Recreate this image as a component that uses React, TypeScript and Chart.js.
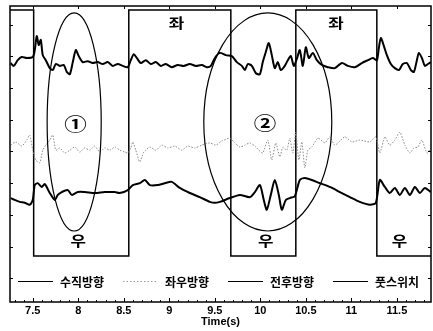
import React, { useEffect, useRef } from "react";
import { Chart, registerables } from "chart.js";

Chart.register(...registerables);

// ---- axis ranges & ticks ----
const timeMin = 7.25;
const timeMax = 11.875;
const valueMin = -0.75;
const valueMax = 8.59;
const xTickValues = [7.5, 8, 8.5, 9, 9.5, 10, 10.5, 11, 11.5];
const xTickLabels = ["7.5", "8", "8.5", "9", "9.5", "10", "10.5", "11", "11.5"];
const yTickValues = [0, 1, 2, 3, 4, 5, 6, 7, 8];

// ---- series labels ----
const seriesLabels = ["수직방향", "좌우방향", "전후방향", "풋스위치"];

// ---- 수직방향 (top trace) ----
const verticalTime = [
  7.258, 7.291, 7.335, 7.379, 7.434, 7.5, 7.522, 7.544, 7.566, 7.588, 7.61, 7.643, 7.687, 7.72, 7.753,
  7.797, 7.841, 7.874, 7.907, 7.94, 7.973, 8.005, 8.049, 8.104, 8.159, 8.214, 8.269, 8.324, 8.379, 8.434,
  8.489, 8.544, 8.577, 8.61, 8.643, 8.687, 8.742, 8.797, 8.852, 8.907, 8.962, 9.027, 9.093, 9.159, 9.225,
  9.291, 9.357, 9.412, 9.456, 9.5, 9.555, 9.621, 9.687, 9.742, 9.797, 9.83, 9.863, 9.907, 9.951, 9.995,
  10.027, 10.06, 10.093, 10.126, 10.159, 10.192, 10.225, 10.269, 10.302, 10.335, 10.368, 10.401, 10.434,
  10.467, 10.5, 10.533, 10.577, 10.621, 10.676, 10.742, 10.819, 10.896, 10.962, 11.038, 11.115, 11.181,
  11.236, 11.28, 11.302, 11.324, 11.357, 11.39, 11.434, 11.478, 11.522, 11.566, 11.61, 11.654, 11.687,
  11.72, 11.742, 11.775, 11.808, 11.841, 11.874,
];
const verticalValue = [
  6.79, 6.7, 6.88, 6.98, 6.95, 6.98, 7.2, 7.64, 7.36, 7.52, 7.04, 6.88, 6.63, 6.57, 6.76,
  6.7, 6.73, 6.51, 6.44, 6.82, 7.2, 7.01, 6.82, 6.85, 6.79, 6.82, 6.76, 6.82, 6.7, 6.76,
  6.7, 6.66, 6.88, 7.07, 6.95, 6.79, 6.88, 6.76, 6.82, 6.7, 6.76, 6.66, 6.73, 6.7, 6.76,
  6.7, 6.73, 6.66, 6.7, 6.95, 7.11, 7.04, 7.01, 6.82, 6.7, 6.57, 6.76, 6.7, 6.47, 6.44,
  6.82, 7.14, 7.42, 7.04, 6.63, 6.82, 6.57, 6.7, 6.88, 7.01, 6.7, 6.92, 7.2,
  6.7, 7.29, 6.95, 7.11, 6.88, 6.73, 6.66, 6.63, 6.79, 6.7, 6.66, 6.79, 6.88,
  6.95, 6.88, 7.26, 7.58, 7.33, 7.04, 6.76, 6.63, 6.57, 6.76, 6.79, 6.57, 6.51,
  6.88, 7.11, 6.95, 6.7, 6.76, 6.82,
];

// ---- 좌우방향 (middle trace) ----
const lateralTime = [
  7.258, 7.313, 7.379, 7.434, 7.467, 7.5, 7.533, 7.577, 7.61, 7.643, 7.687, 7.72, 7.753, 7.797, 7.852,
  7.907, 7.962, 8.016, 8.071, 8.126, 8.181, 8.236, 8.291, 8.346, 8.401, 8.456, 8.511, 8.544, 8.577, 8.599,
  8.632, 8.676, 8.72, 8.786, 8.852, 8.918, 8.984, 9.06, 9.137, 9.203, 9.28, 9.357, 9.445, 9.511, 9.577,
  9.665, 9.72, 9.775, 9.83, 9.885, 9.94, 9.984, 10.027, 10.082, 10.126, 10.17, 10.214, 10.247, 10.291,
  10.324, 10.357, 10.39, 10.423, 10.456, 10.489, 10.522, 10.566, 10.632, 10.709, 10.764, 10.819, 10.929,
  11.005, 11.093, 11.203, 11.269, 11.313, 11.368, 11.423, 11.478, 11.533, 11.588, 11.643, 11.687, 11.731,
  11.775, 11.83, 11.874,
];
const lateralValue = [
  4.2, 4.3, 4.17, 4.36, 4.52, 4.04, 3.73, 3.64, 4.04, 4.2, 4.36, 4.52, 4.04, 4.11, 3.95,
  4.04, 4.14, 3.98, 4.11, 4.04, 4.17, 3.98, 4.11, 4.04, 4.14, 4.04, 3.98, 3.95, 4.11, 4.3,
  4.04, 3.67, 3.98, 4.14, 4.04, 4.2, 4.11, 4.17, 4.04, 4.17, 4.11, 4.2, 4.27, 4.2, 4.33,
  4.42, 4.27, 4.14, 4.2, 4.27, 4.17, 4.04, 3.95, 4.36, 3.73, 4.27, 3.83, 4.14, 4.04,
  4.42, 3.95, 4.61, 3.73, 4.3, 3.48, 4.04, 4.14, 4.42, 4.27, 4.46, 4.2, 4.46,
  4.3, 4.36, 4.3, 4.46, 3.95, 4.46, 4.2, 4.36, 4.61, 4.2, 3.95, 4.11, 4.14,
  4.36, 3.95, 4.11,
];

// ---- 전후방향 (bottom trace) ----
const forwardTime = [
  7.258, 7.302, 7.357, 7.412, 7.467, 7.5, 7.522, 7.555, 7.599, 7.632, 7.687, 7.742, 7.775, 7.819, 7.885,
  7.929, 7.995, 8.071, 8.181, 8.291, 8.401, 8.456, 8.544, 8.599, 8.676, 8.731, 8.786, 8.874, 8.951, 9.027,
  9.115, 9.225, 9.335, 9.445, 9.5, 9.555, 9.665, 9.775, 9.885, 9.94, 9.995, 10.038, 10.071, 10.115, 10.159,
  10.203, 10.236, 10.28, 10.324, 10.379, 10.434, 10.489, 10.566, 10.654, 10.764, 10.874, 10.984, 11.093,
  11.203, 11.269, 11.313, 11.368, 11.423, 11.478, 11.533, 11.588, 11.643, 11.698, 11.753, 11.808, 11.874,
];
const forwardValue = [
  2.53, 2.47, 2.41, 2.38, 2.32, 2.47, 2.94, 3.0, 2.88, 2.97, 2.69, 2.47, 2.63, 2.72, 2.78,
  2.63, 2.72, 2.72, 2.69, 2.72, 2.72, 2.69, 2.78, 2.94, 3.0, 3.1, 2.94, 2.94, 3.0, 3.04,
  2.85, 2.69, 2.56, 2.41, 2.38, 2.41, 2.53, 2.63, 2.56, 2.72, 2.94, 2.47, 2.16, 2.63, 3.1,
  2.63, 2.16, 2.47, 2.53, 2.59, 3.1, 3.16, 3.1, 3.0, 2.88, 2.72, 2.56, 2.41,
  2.32, 2.38, 3.1, 2.88, 2.69, 2.85, 2.63, 2.85, 2.63, 2.88, 2.69, 2.85, 2.72,
];

// ---- 풋스위치 (foot switch, step) ----
const switchTime = [7.25, 7.51, 8.555, 9.676, 10.39, 11.28, 11.875];
const switchValue = [8.46, 0.7, 8.46, 0.7, 8.46, 0.7, 0.7];

// ---- annotations (data coordinates) ----
const ellipseTime = [7.955, 10.082];
const ellipseValue = [4.93, 4.93];
const ellipseHalfTime = [0.297, 0.703];
const ellipseHalfValue = [3.44, 3.44];
const markerTime = [7.97, 10.05];
const markerValue = [4.9, 4.93];
const markerText = ["①", "②"];
const sideText = ["좌", "좌", "우", "우", "우"];
const sideTime = [9.08, 10.83, 8.0, 10.06, 11.53];
const sideValue = [8.05, 8.05, 1.17, 1.17, 1.17];

const pts = (ts: number[], vs: number[]) => ts.map((t, i) => ({ x: t, y: vs[i] }));

const legendStyles = [
  { color: "#000", dash: [] as number[], width: 1 },
  { color: "#9a9a9a", dash: [1.5, 2], width: 1 },
  { color: "#000", dash: [] as number[], width: 1 },
  { color: "#000", dash: [] as number[], width: 1 },
];

const framePlugin = {
  id: "frame",
  afterDatasetsDraw(chart: any) {
    const { ctx, chartArea } = chart;
    const { left, right, top, bottom } = chartArea;
    const xs = chart.scales.x;
    const ys = chart.scales.y;
    ctx.save();
    ctx.strokeStyle = "#000";
    ctx.lineWidth = 1.5;
    ctx.strokeRect(left, top, right - left, bottom - top);
    ctx.lineWidth = 1;
    const line = (x1: number, y1: number, x2: number, y2: number) => {
      ctx.beginPath();
      ctx.moveTo(x1, y1);
      ctx.lineTo(x2, y2);
      ctx.stroke();
    };
    for (const v of yTickValues) {
      const py = Math.round(ys.getPixelForValue(v)) + 0.5;
      line(left, py, left + 3, py);
      line(right, py, right - 3, py);
    }
    for (const v of xTickValues) {
      const px = Math.round(xs.getPixelForValue(v)) + 0.5;
      line(px, bottom, px, bottom - 4);
      line(px, top, px, top + 3);
    }
    for (let k = 73; k <= 118; k++) {
      const v = k / 10;
      if (v <= timeMin || v >= timeMax) continue;
      const px = Math.round(xs.getPixelForValue(v)) + 0.5;
      line(px, bottom, px, bottom - 2);
    }
    ctx.restore();
  },
};

const annotationPlugin = {
  id: "annot",
  afterDatasetsDraw(chart: any) {
    const { ctx, chartArea } = chart;
    const xs = chart.scales.x;
    const ys = chart.scales.y;
    ctx.save();
    ctx.strokeStyle = "#000";
    ctx.fillStyle = "#000";
    // ellipses
    ctx.lineWidth = 1.2;
    ellipseTime.forEach((t, i) => {
      const cx = xs.getPixelForValue(t);
      const cy = ys.getPixelForValue(ellipseValue[i]);
      const rx = xs.getPixelForValue(t + ellipseHalfTime[i]) - cx;
      const ry = cy - ys.getPixelForValue(ellipseValue[i] + ellipseHalfValue[i]);
      ctx.beginPath();
      ctx.ellipse(cx, cy, rx, ry, 0, 0, Math.PI * 2);
      ctx.stroke();
    });
    // circled markers
    ctx.textAlign = "center";
    ctx.textBaseline = "middle";
    markerText.forEach((txt, i) => {
      const cx = xs.getPixelForValue(markerTime[i]);
      const cy = ys.getPixelForValue(markerValue[i]);
      ctx.save();
      ctx.translate(cx, cy);
      ctx.scale(1.25, 1);
      ctx.font = "bold 18px 'Noto Sans CJK KR'";
      ctx.fillText(txt, 0, 1);
      ctx.restore();
    });
    // side labels
    sideText.forEach((txt, i) => {
      const cx = xs.getPixelForValue(sideTime[i]);
      const cy = ys.getPixelForValue(sideValue[i]);
      ctx.save();
      ctx.translate(cx, cy);
      ctx.scale(1.2, 1);
      ctx.font = "bold 14px 'Noto Sans CJK KR'";
      ctx.fillText(txt, 0, 0);
      ctx.restore();
    });
    // legend inside plot
    const ly = chartArea.bottom - 20.5;
    const itemW = 105;
    const sampleLen = 35;
    ctx.textAlign = "left";
    ctx.font = "bold 12px 'Noto Sans CJK KR'";
    seriesLabels.forEach((lbl, i) => {
      const x0 = chartArea.left + 8 + i * itemW;
      const st = legendStyles[i];
      ctx.save();
      ctx.strokeStyle = st.color;
      ctx.lineWidth = st.width;
      ctx.setLineDash(st.dash);
      ctx.beginPath();
      ctx.moveTo(x0, ly);
      ctx.lineTo(x0 + sampleLen, ly);
      ctx.stroke();
      ctx.restore();
      ctx.fillText(lbl, x0 + sampleLen + 7, ly + 1);
    });
    ctx.restore();
  },
};

export default function App() {
  const canvasRef = useRef<HTMLCanvasElement | null>(null);

  useEffect(() => {
    const canvas = canvasRef.current;
    if (!canvas) return;
    const tickFont = { family: "'Liberation Sans', Arial, sans-serif", size: 11, weight: "bold" as const };
    const chart = new Chart(canvas, {
      type: "line",
      data: {
        datasets: [
          {
            label: seriesLabels[0],
            data: pts(verticalTime, verticalValue),
            borderColor: "#000",
            borderWidth: 2,
            pointRadius: 0,
            tension: 0.25,
            fill: false,
          },
          {
            label: seriesLabels[2],
            data: pts(forwardTime, forwardValue),
            borderColor: "#000",
            borderWidth: 2,
            pointRadius: 0,
            tension: 0.25,
            fill: false,
          },
          {
            label: seriesLabels[1],
            data: pts(lateralTime, lateralValue),
            borderColor: "#8c8c8c",
            borderWidth: 1,
            borderDash: [1.5, 1.5],
            pointRadius: 0,
            tension: 0.2,
            fill: false,
          },
          {
            label: seriesLabels[3],
            data: pts(switchTime, switchValue),
            borderColor: "#000",
            borderWidth: 1.5,
            pointRadius: 0,
            stepped: true,
            fill: false,
          },
        ],
      },
      options: {
        responsive: false,
        animation: false,
        devicePixelRatio: 1,
        layout: { padding: { top: 6, right: 2, left: 0, bottom: 0 } },
        plugins: { legend: { display: false }, tooltip: { enabled: false } },
        scales: {
          x: {
            type: "linear",
            min: timeMin,
            max: timeMax,
            afterBuildTicks: (s: any) => {
              s.ticks = xTickValues.map((v) => ({ value: v }));
            },
            afterFit: (s: any) => {
              s.height = 29;
            },
            ticks: {
              autoSkip: false,
              maxRotation: 0,
              padding: 2,
              color: "#000",
              font: tickFont,
              callback: (v: any) => xTickLabels[xTickValues.indexOf(Number(v))] ?? "",
            },
            grid: { display: false, drawTicks: false },
            border: { display: false },
            title: {
              display: true,
              text: "Time(s)",
              color: "#000",
              font: { family: "'Liberation Sans', Arial, sans-serif", size: 11, weight: "bold" },
              padding: { top: 0, bottom: 2 },
            },
          },
          y: {
            type: "linear",
            min: valueMin,
            max: valueMax,
            afterBuildTicks: (s: any) => {
              s.ticks = yTickValues.map((v) => ({ value: v }));
            },
            afterFit: (s: any) => {
              s.width = 10;
            },
            ticks: { display: false },
            grid: { display: false, drawTicks: false },
            border: { display: false },
          },
        },
      },
      plugins: [framePlugin, annotationPlugin],
    });
    return () => chart.destroy();
  }, []);

  return (
    <div style={{ position: "fixed", left: 0, top: 0, width: 433, height: 331, background: "#fff" }}>
      <canvas ref={canvasRef} width={433} height={331} style={{ width: 433, height: 331, display: "block" }} />
    </div>
  );
}
